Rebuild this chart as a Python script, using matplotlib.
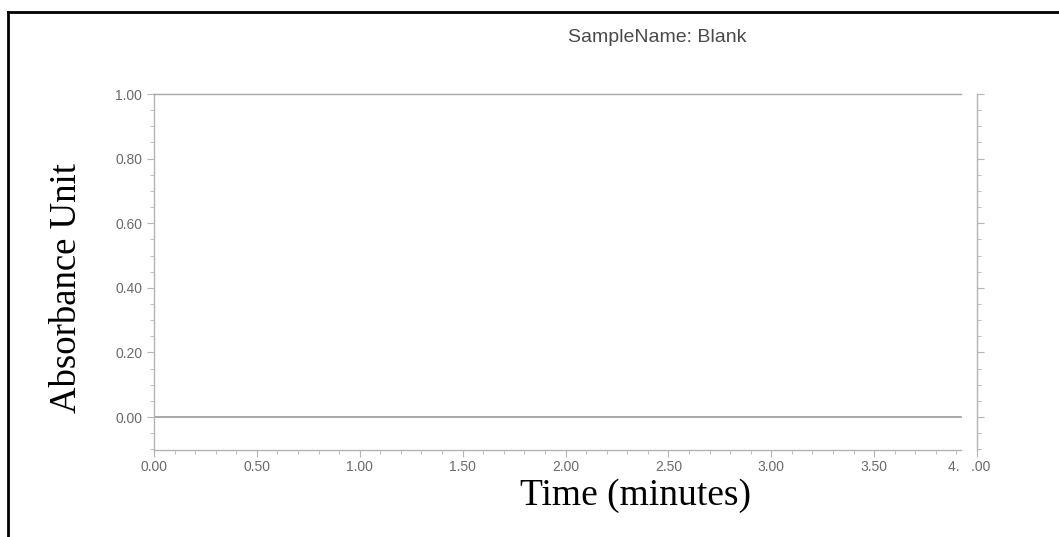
import matplotlib
matplotlib.use("Agg")
import matplotlib.pyplot as plt
from matplotlib.lines import Line2D
import matplotlib.transforms as mtransforms
import numpy as np

# Data
time_min = [0.0, 3.92]
absorbance = [0.0, 0.0]
x_ticks = [0.0, 0.5, 1.0, 1.5, 2.0, 2.5, 3.0, 3.5, 4.0]
x_tick_labels = ["0.00", "0.50", "1.00", "1.50", "2.00", "2.50", "3.00", "3.50", "4.   .00"]
y_ticks = [0.0, 0.2, 0.4, 0.6, 0.8, 1.0]
y_tick_labels = ["0.00", "0.20", "0.40", "0.60", "0.80", "1.00"]
title = "SampleName: Blank"
xlabel = "Time (minutes)"
ylabel = "Absorbance Unit"

W, H = 1059, 537
fig = plt.figure(figsize=(W / 100, H / 100), dpi=100)
ax = fig.add_axes([154 / W, 1 - 450 / H, (977 - 154) / W, (450 - 94) / H])

axis_c = "#b4b4b4"
lab_c = "#6a6a6a"

ax.plot(time_min, absorbance, color="#9a9a9a", lw=1.2)
ax.set_xlim(0, 4.0)
ax.set_ylim(-0.102, 1.0)

for s in ["left", "right", "bottom", "top"]:
    ax.spines[s].set_color(axis_c)
    ax.spines[s].set_linewidth(1.0)
ax.spines["bottom"].set_bounds(0, 3.92)
ax.spines["top"].set_bounds(0, 3.92)
ax.spines["top"].set_linestyle((0, (4, 1)))
ax.spines["top"].set_color("#a8a8a8")

ax.set_xticks(x_ticks)
ax.set_xticklabels(x_tick_labels)
ax.set_xticks(np.arange(0, 4.0, 0.1), minor=True)
ax.set_yticks(y_ticks)
ax.set_yticklabels(y_tick_labels)
ax.set_yticks(np.arange(-0.1, 1.0, 0.05), minor=True)

ax.tick_params(axis="x", which="both", direction="out", color=axis_c,
               labelcolor=lab_c, labelsize=10, top=False, pad=2)
ax.tick_params(axis="x", which="major", length=5)
ax.tick_params(axis="x", which="minor", length=3)
ax.tick_params(axis="y", which="both", direction="out", color=axis_c,
               labelcolor=lab_c, labelsize=10, right=True)
ax.tick_params(axis="y", which="major", length=5)
ax.tick_params(axis="y", which="minor", length=3)
for lab in ax.get_xticklabels() + ax.get_yticklabels():
    lab.set_fontfamily("Liberation Sans")
last = ax.get_xticklabels()[-1]
last.set_transform(last.get_transform() +
                   mtransforms.ScaledTranslation(-8 / 100, 0, fig.dpi_scale_trans))

fig.text(657 / W, 1 - 38 / H, title, ha="center", va="center",
         fontsize=14, color="#4a4a4a", family="Liberation Sans")
fig.text(635 / W, 1 - 496 / H, xlabel, ha="center", va="center",
         fontsize=27, color="black", family="Liberation Serif")
fig.text(67 / W, 1 - 288 / H, ylabel, ha="center", va="center", rotation=90,
         fontsize=26.5, color="black", family="Liberation Serif")

# Outer border (top and left)
fig.add_artist(Line2D([8 / W, 8 / W], [0, 1 - 12 / H], transform=fig.transFigure,
                      color="black", lw=2))
fig.add_artist(Line2D([8 / W, 1], [1 - 12 / H, 1 - 12 / H], transform=fig.transFigure,
                      color="black", lw=2))

fig.savefig("out.png", dpi=100)
